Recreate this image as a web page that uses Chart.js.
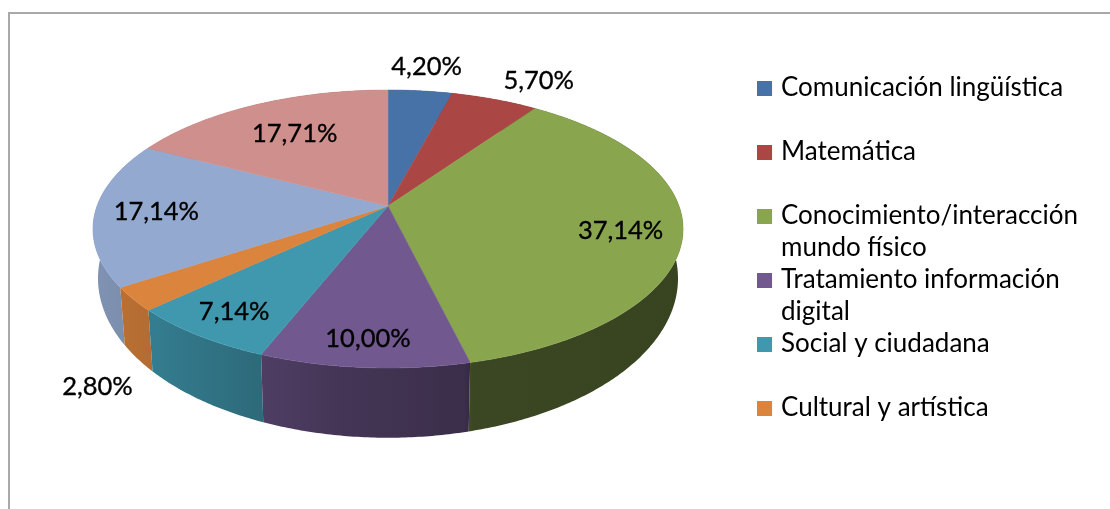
<!DOCTYPE html>
<html>
<head>
<meta charset="utf-8">
<script src="https://cdn.jsdelivr.net/npm/chart.js@4"></script>
<style>
html, body { margin: 0; padding: 0; background: #fff; overflow: hidden; }
#wrap { width: 1110px; height: 509px; }
</style>
</head>
<body>
<div id="wrap"><canvas id="myChart" width="1110" height="509"></canvas></div>
<script>
// last two slices have no legend entry in the original
const categories = [
  ['Comunicación lingüística', ''],
  ['Matemática', ''],
  ['Conocimiento/interacción', 'mundo físico'],
  ['Tratamiento información', 'digital'],
  ['Social y ciudadana', ''],
  ['Cultural y artística', ''],
  ['', ''],
  ['', '']
];
const values = [4.20, 5.70, 37.14, 10.00, 7.14, 2.80, 17.14, 17.71];
const valueLabels = ['4,20%', '5,70%', '37,14%', '10,00%', '7,14%', '2,80%', '17,14%', '17,71%'];
const colors = ['#4672a8', '#aa4644', '#89a54e', '#71588f', '#4098af', '#db843d', '#93a9cf', '#cf8f8d'];

// label shift from the point at 70% of the radius, on each slice's middle angle
const labelShift = [[15, -55], [73, -48], [28, 7], [-4, 26], [-27, 19], [-118, 118], [-27, 1], [3, 1]];

// perspective of the tilted disc: top face and bottom face
const topFace = { cx: 388, cy: 206, rx: 291, ry: 135.2, k: 0.1655 };
const bottomFace = { cx: 388, cy: 252, rx: 286, ry: 155, k: 0.1655 };
// side wall gets darker going to the right
const wallShade = [[90, 0.87], [150, 0.82], [260, 0.7], [340, 0.6], [465, 0.52], [472, 0.43], [690, 0.41]];
const labelFont = '25.5px Lato';

function project(face, angle, f) {
  const u = Math.cos(angle) * f, v = Math.sin(angle) * f;
  const d = 1 - face.k * v;
  return { x: face.cx + face.rx * u / d, y: face.cy + face.ry * v / d };
}

function traceArc(ctx, face, a0, a1, first) {
  const n = Math.max(2, Math.ceil(Math.abs(a1 - a0) / 0.01));
  for (let i = 0; i <= n; i++) {
    const p = project(face, a0 + (a1 - a0) * i / n, 1);
    if (i === 0 && first) ctx.moveTo(p.x, p.y); else ctx.lineTo(p.x, p.y);
  }
}

function shadeColor(hex, s) {
  const n = parseInt(hex.slice(1), 16);
  return `rgb(${Math.round((n >> 16) * s)},${Math.round(((n >> 8) & 255) * s)},${Math.round((n & 255) * s)})`;
}

// legend square as an image, so the gap to the text can be smaller than Chart.js allows
function swatch(color) {
  const c = document.createElement('canvas');
  c.width = 18;
  c.height = 15;
  const g = c.getContext('2d');
  g.fillStyle = color;
  g.fillRect(0, 0, 15, 15);
  return c;
}

const disc3d = {
  id: 'disc3d',
  beforeDraw(chart) {
    const ctx = chart.ctx;
    ctx.save();
    ctx.strokeStyle = '#a9a9a9';
    ctx.lineWidth = 2;
    ctx.strokeRect(9, 13, 1200, 600);
    ctx.restore();
    // the square sticks out of the legend box on the left, so no clipping
    chart.legend.draw = function () { this._draw(); };
  },
  beforeDatasetDraw(chart, args) {
    const ctx = chart.ctx;
    const arcs = args.meta.data;
    ctx.save();
    // walls, back ones first so the front ones lie on top
    const order = arcs.map((a, i) => i).sort((i, j) =>
      Math.sin((arcs[i].startAngle + arcs[i].endAngle) / 2) - Math.sin((arcs[j].startAngle + arcs[j].endAngle) / 2));
    order.forEach(i => {
      const a = arcs[i];
      const grad = ctx.createLinearGradient(wallShade[0][0], 0, wallShade[wallShade.length - 1][0], 0);
      const x0 = wallShade[0][0], span = wallShade[wallShade.length - 1][0] - x0;
      wallShade.forEach(s => grad.addColorStop((s[0] - x0) / span, shadeColor(colors[i], s[1])));
      ctx.fillStyle = grad;
      ctx.beginPath();
      traceArc(ctx, topFace, a.startAngle, a.endAngle, true);
      traceArc(ctx, bottomFace, a.endAngle, a.startAngle, false);
      ctx.closePath();
      ctx.fill();
    });
    // top face
    arcs.forEach((a, i) => {
      ctx.fillStyle = colors[i];
      ctx.strokeStyle = colors[i];
      ctx.lineWidth = 0.5;
      ctx.beginPath();
      ctx.moveTo(topFace.cx, topFace.cy);
      traceArc(ctx, topFace, a.startAngle, a.endAngle, false);
      ctx.closePath();
      ctx.fill();
      ctx.stroke();
    });
    // value labels, thin stroke because the original text is heavier
    ctx.fillStyle = '#000';
    ctx.strokeStyle = '#000';
    ctx.lineWidth = 0.35;
    ctx.font = labelFont;
    ctx.textAlign = 'center';
    ctx.textBaseline = 'middle';
    arcs.forEach((a, i) => {
      const p = project(topFace, (a.startAngle + a.endAngle) / 2, 0.7);
      ctx.fillText(valueLabels[i], p.x + labelShift[i][0], p.y + labelShift[i][1]);
      ctx.strokeText(valueLabels[i], p.x + labelShift[i][0], p.y + labelShift[i][1]);
    });
    ctx.restore();
    return false;
  }
};

new Chart(document.getElementById('myChart'), {
  type: 'pie',
  data: {
    labels: categories,
    datasets: [{ data: values, backgroundColor: colors, borderWidth: 0 }]
  },
  plugins: [disc3d],
  options: {
    responsive: false,
    animation: false,
    layout: { padding: { top: 75, left: 20, right: 22, bottom: 20 } },
    plugins: {
      tooltip: { enabled: false },
      legend: {
        position: 'right',
        align: 'start',
        labels: {
          usePointStyle: true,
          boxWidth: 4,
          boxHeight: 15,
          padding: 0,
          color: '#000',
          font: { family: 'Lato', size: 26, lineHeight: 32 / 26 },
          generateLabels: chart => Chart.overrides.pie.plugins.legend.labels.generateLabels(chart)
            .map(item => ({ ...item, pointStyle: swatch(item.fillStyle) })),
          filter: item => item.text[0] !== ''
        }
      }
    }
  }
});
</script>
</body>
</html>
